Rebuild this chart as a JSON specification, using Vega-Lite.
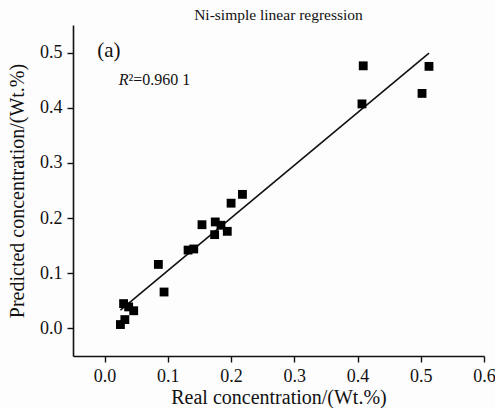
{
  "$schema": "https://vega.github.io/schema/vega-lite/v6.json",
  "autosize": "none",
  "width": 411,
  "height": 331,
  "padding": {"left": 73, "top": 25, "right": 11, "bottom": 52},
  "background": "#fdfdfd",
  "title": {"text": "Ni-simple linear regression", "font": "Liberation Serif, Times New Roman, serif", "fontSize": 15.5, "fontWeight": "normal", "color": "#111", "offset": 2, "anchor": "middle"},
  "config": {
    "font": "Liberation Serif, Times New Roman, serif",
    "view": {"stroke": null},
    "text": {"font": "Liberation Serif, Times New Roman, serif"},
    "axis": {"grid": false, "labelFlush": false, "domainColor": "#111", "domainWidth": 1.6, "tickColor": "#111", "tickWidth": 1.4, "tickSize": 6, "labelFont": "Liberation Serif, Times New Roman, serif", "labelFontSize": 18, "labelColor": "#111", "titleFont": "Liberation Serif, Times New Roman, serif", "titleFontSize": 20, "titleFontWeight": "normal", "titleColor": "#111", "labelPadding": 5}
  },
  "datasets": {
    "pts": [
      {"real": 0.025, "pred": 0.007},
      {"real": 0.032, "pred": 0.016},
      {"real": 0.030, "pred": 0.045},
      {"real": 0.038, "pred": 0.039},
      {"real": 0.046, "pred": 0.032},
      {"real": 0.085, "pred": 0.116},
      {"real": 0.094, "pred": 0.066},
      {"real": 0.132, "pred": 0.142},
      {"real": 0.141, "pred": 0.144},
      {"real": 0.154, "pred": 0.188},
      {"real": 0.174, "pred": 0.170},
      {"real": 0.175, "pred": 0.193},
      {"real": 0.184, "pred": 0.187},
      {"real": 0.194, "pred": 0.176},
      {"real": 0.200, "pred": 0.227},
      {"real": 0.218, "pred": 0.243},
      {"real": 0.409, "pred": 0.476},
      {"real": 0.513, "pred": 0.475},
      {"real": 0.502, "pred": 0.426},
      {"real": 0.407, "pred": 0.407}
    ],
    "fit": [
      {"real": 0.025, "pred": 0.033},
      {"real": 0.513, "pred": 0.499}
    ],
    "label_a": [
      {"real": -0.0116, "pred": 0.492, "t": "(a)"}
    ],
    "label_r": [
      {"real": 0.0222, "pred": 0.4408, "t": "R"}
    ],
    "label_rest": [
      {"real": 0.0377, "pred": 0.4408, "t": "²=0.960 1"}
    ]
  },
  "layer": [
    {
      "data": {"name": "fit"},
      "mark": {"type": "line", "color": "#111", "strokeWidth": 1.6},
      "encoding": {
        "x": {"field": "real", "type": "quantitative", "scale": {"domain": [-0.05, 0.6], "nice": false}, "axis": {"values": [0, 0.1, 0.2, 0.3, 0.4, 0.5, 0.6], "format": ".1f", "title": "Real concentration/(Wt.%)", "titlePadding": 2}},
        "y": {"field": "pred", "type": "quantitative", "scale": {"domain": [-0.05, 0.55], "nice": false}, "axis": {"values": [0, 0.1, 0.2, 0.3, 0.4, 0.5], "format": ".1f", "title": "Predicted concentration/(Wt.%)", "titlePadding": 12}}
      }
    },
    {
      "data": {"name": "pts"},
      "mark": {"type": "point", "shape": "square", "filled": true, "color": "#000", "opacity": 1, "size": 78},
      "encoding": {
        "x": {"field": "real", "type": "quantitative"},
        "y": {"field": "pred", "type": "quantitative"}
      }
    },
    {
      "data": {"name": "label_a"},
      "mark": {"type": "text", "font": "Liberation Serif, Times New Roman, serif", "align": "left", "baseline": "alphabetic", "color": "#111", "fontSize": 21},
      "encoding": {
        "x": {"field": "real", "type": "quantitative"},
        "y": {"field": "pred", "type": "quantitative"},
        "text": {"field": "t"}
      }
    },
    {
      "data": {"name": "label_r"},
      "mark": {"type": "text", "font": "Liberation Serif, Times New Roman, serif", "fontStyle": "italic", "align": "left", "baseline": "alphabetic", "color": "#111", "fontSize": 16},
      "encoding": {
        "x": {"field": "real", "type": "quantitative"},
        "y": {"field": "pred", "type": "quantitative"},
        "text": {"field": "t"}
      }
    },
    {
      "data": {"name": "label_rest"},
      "mark": {"type": "text", "font": "Liberation Serif, Times New Roman, serif", "align": "left", "baseline": "alphabetic", "color": "#111", "fontSize": 16},
      "encoding": {
        "x": {"field": "real", "type": "quantitative"},
        "y": {"field": "pred", "type": "quantitative"},
        "text": {"field": "t"}
      }
    }
  ]
}
